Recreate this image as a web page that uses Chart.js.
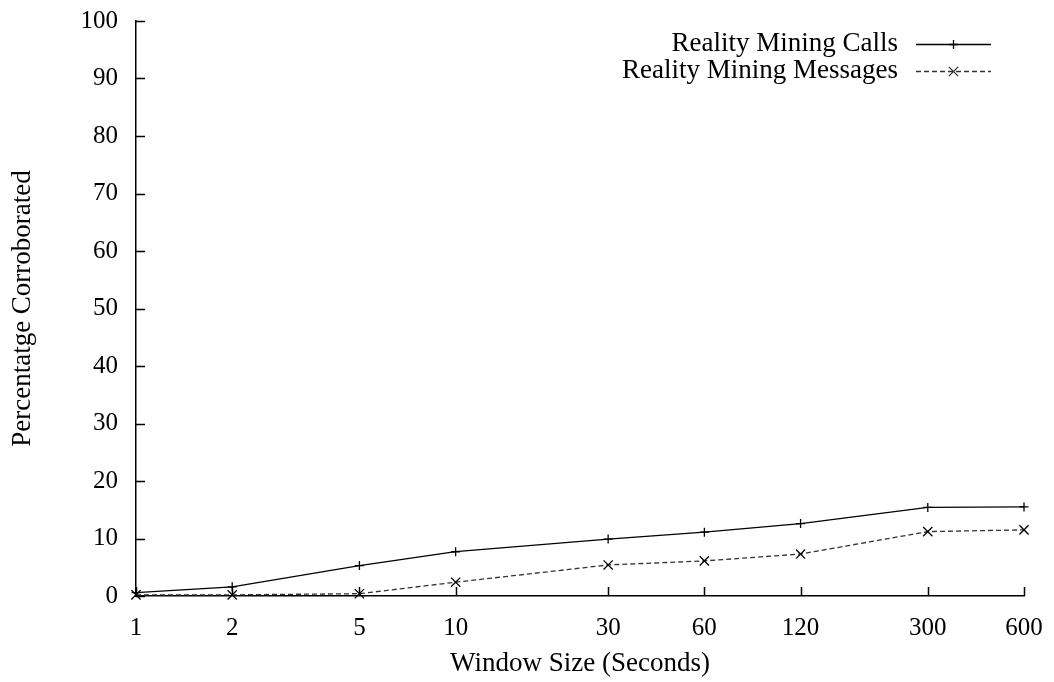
<!DOCTYPE html>
<html>
<head>
<meta charset="utf-8">
<script src="https://cdn.jsdelivr.net/npm/chart.js@4.4.1/dist/chart.umd.min.js"></script>
<style>
  html, body { margin: 0; padding: 0; background: #fff; }
  #wrap { width: 1054px; height: 682px; }
</style>
</head>
<body>
<div id="wrap"><canvas id="chart"></canvas></div>
<script>
// window sizes (seconds) and percentages
const windowSizes = [1, 2, 5, 10, 30, 60, 120, 300, 600];
const callsPct = [0.6, 1.6, 5.3, 7.7, 9.9, 11.1, 12.6, 15.4, 15.5];
const messagesPct = [0.2, 0.2, 0.4, 2.4, 5.4, 6.1, 7.3, 11.2, 11.5];
const yTicks = [0, 10, 20, 30, 40, 50, 60, 70, 80, 90, 100];
const seriesNames = ['Reality Mining Calls', 'Reality Mining Messages'];

const FONT = "'Liberation Serif', 'Times New Roman', serif";

const toPoints = (vals) => windowSizes.map((x, i) => ({ x: x, y: vals[i] }));

// inward tick marks like gnuplot
const innerTicks = {
  id: 'innerTicks',
  afterDraw(chart) {
    const ctx = chart.ctx;
    const xs = chart.scales.x, ys = chart.scales.y;
    const area = chart.chartArea;
    ctx.save();
    ctx.strokeStyle = '#000';
    ctx.lineWidth = 1.5;
    ctx.beginPath();
    windowSizes.forEach(v => {
      const px = Math.round(xs.getPixelForValue(v)) + 0.5;
      ctx.moveTo(px, area.bottom);
      ctx.lineTo(px, area.bottom - 9);
    });
    yTicks.forEach(v => {
      const py = Math.round(ys.getPixelForValue(v)) + 0.5;
      ctx.moveTo(area.left, py);
      ctx.lineTo(area.left + 9, py);
    });
    ctx.stroke();
    ctx.restore();
  }
};

// legend in the top right corner, text on the left and sample on the right
const cornerLegend = {
  id: 'cornerLegend',
  afterDraw(chart) {
    const ctx = chart.ctx;
    const textRight = 898, lineL = 916, lineR = 991;
    const rows = [44, 71];
    ctx.save();
    ctx.font = '27px ' + FONT;
    ctx.textAlign = 'right';
    ctx.textBaseline = 'middle';
    ctx.fillStyle = '#000';
    chart.data.datasets.forEach((ds, i) => {
      const y = rows[i];
      ctx.fillText(ds.label, textRight, y);
      ctx.strokeStyle = ds.borderColor;
      ctx.lineWidth = ds.borderWidth;
      ctx.setLineDash(ds.borderDash || []);
      ctx.beginPath();
      ctx.moveTo(lineL, y + 0.5);
      ctx.lineTo(lineR, y + 0.5);
      ctx.stroke();
      ctx.setLineDash([]);
      Chart.helpers.drawPoint(ctx, {
        pointStyle: ds.pointStyle,
        radius: ds.pointRadius,
        borderWidth: ds.pointBorderWidth,
        rotation: 0
      }, (lineL + lineR) / 2, y + 0.5);
    });
    ctx.restore();
  }
};

new Chart(document.getElementById('chart'), {
  type: 'line',
  data: {
    datasets: [{
      label: seriesNames[0],
      data: toPoints(callsPct),
      borderColor: '#000',
      borderWidth: 1.3,
      pointStyle: 'cross',
      pointRadius: 4.5,
      pointBorderWidth: 1.3,
      pointBorderColor: '#000',
      fill: false,
      clip: false,
      tension: 0
    }, {
      label: seriesNames[1],
      data: toPoints(messagesPct),
      borderColor: '#333',
      borderWidth: 1.3,
      borderDash: [5, 3],
      pointStyle: 'crossRot',
      pointRadius: 6.5,
      pointBorderWidth: 1.3,
      pointBorderColor: '#000',
      fill: false,
      clip: false,
      tension: 0
    }]
  },
  options: {
    responsive: true,
    maintainAspectRatio: false,
    animation: false,
    layout: { padding: { left: 0, top: 21, right: 30, bottom: 0 } },
    plugins: {
      legend: { display: false },
      tooltip: { enabled: false }
    },
    scales: {
      x: {
        type: 'logarithmic',
        min: 1,
        max: 600,
        afterBuildTicks: (s) => { s.ticks = windowSizes.map(v => ({ value: v })); },
        afterFit: (s) => { s.height = 86; s.paddingLeft = 0; s.paddingRight = 0; },
        grid: { display: false, drawTicks: false },
        border: { display: true, color: '#000', width: 1.5 },
        ticks: {
          color: '#000',
          font: { family: FONT, size: 25 },
          padding: 17,
          maxRotation: 0,
          autoSkip: false,
          callback: (v) => String(v)
        },
        title: {
          display: true,
          text: 'Window Size (Seconds)',
          color: '#000',
          font: { family: FONT, size: 27 },
          padding: { top: 0, bottom: 2 }
        }
      },
      y: {
        type: 'linear',
        min: 0,
        max: 100,
        afterBuildTicks: (s) => { s.ticks = yTicks.map(v => ({ value: v })); },
        afterFit: (s) => { s.width = 136; s.paddingTop = 0; s.paddingBottom = 0; },
        grid: { display: false, drawTicks: false },
        border: { display: true, color: '#000', width: 1.5 },
        ticks: {
          color: '#000',
          font: { family: FONT, size: 25 },
          padding: 18
        },
        title: {
          display: true,
          text: 'Percentatge Corroborated',
          color: '#000',
          font: { family: FONT, size: 27 },
          padding: { top: 7, bottom: 0 }
        }
      }
    }
  },
  plugins: [innerTicks, cornerLegend]
});
</script>
</body>
</html>
